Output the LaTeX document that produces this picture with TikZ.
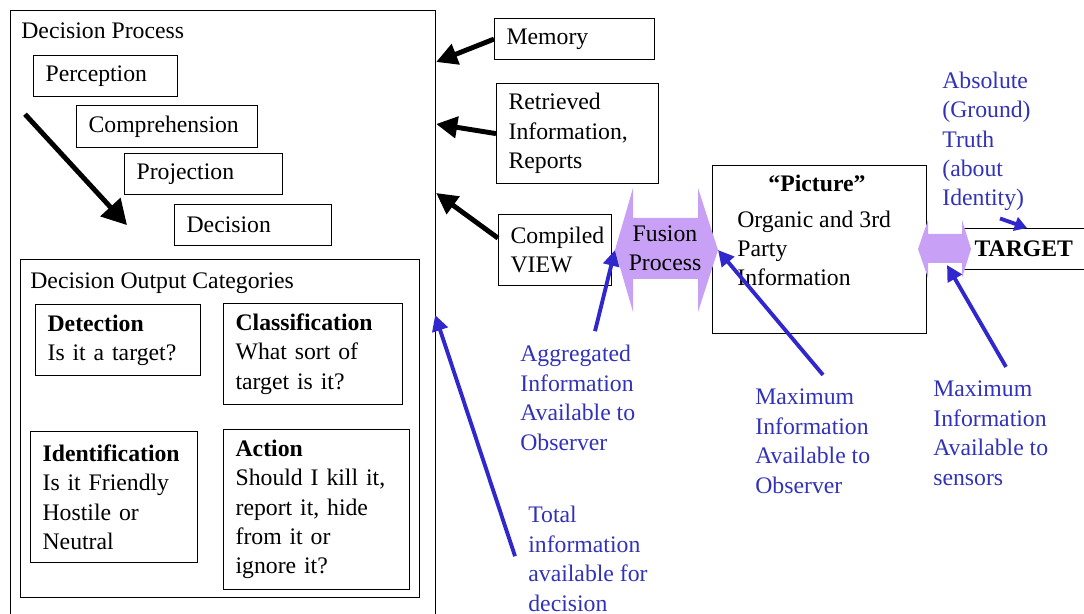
\documentclass[tikz,border=0pt]{standalone}
\usepackage{fontspec}
\setmainfont{Liberation Serif}
\usetikzlibrary{arrows.meta, calc}
\definecolor{infoblue}{RGB}{48,40,205}
\definecolor{txtblue}{RGB}{50,50,185}
\definecolor{lilac}{RGB}{200,160,245}
\begin{document}
\begin{tikzpicture}[x=0.02cm, y=-0.02cm, font=\fontsize{13.5}{16.7}\selectfont,
  box/.style={draw, line width=0.7pt, align=left, inner xsep=0.24cm, inner ysep=0pt, anchor=north west},
  lbl/.style={align=left, inner sep=0pt, anchor=base west},
  note/.style={lbl, text=txtblue},
  blk/.style={line width=2.8pt, -{Triangle[length=12pt,width=12pt]}},
  blu/.style={draw=infoblue, line width=2.2pt, -{Triangle[length=9pt,width=9pt]}}]
\useasboundingbox (0,0) rectangle (1084,614);
\clip (0,0) rectangle (1084,614);
% decision process
\node[box, minimum width=8.5cm, minimum height=13cm] (dp) at (10,10) {};
\node[lbl] (dptitle) at (21,39) {Decision Process};
\node[box, text width=2.4cm, minimum height=0.82cm] (perc) at (33,55) {Perception};
\node[box, text width=3.14cm, minimum height=0.84cm] (comp) at (76,105) {Comprehension};
\node[box, text width=2.68cm, minimum height=0.82cm] (proj) at (124,153) {Projection};
\node[box, text width=2.66cm, minimum height=0.82cm] (dec) at (174,204) {Decision};
% output categories
\node[box, minimum width=7.98cm, minimum height=6.76cm] (doc) at (20,259) {};
\node[lbl] (doctitle) at (30,289) {Decision Output Categories};
\node[box, text width=2.82cm, minimum height=1.42cm] (det) at (35,304) {\textbf{Detection}\\Is it a target?};
\node[box, text width=3.1cm, minimum height=2.02cm] (cls) at (223,303) {\textbf{Classification}\\What sort of\\target is it?};
\node[box, text width=2.86cm, minimum height=2.62cm] (idf) at (30,431) {\textbf{Identification}\\Is it Friendly\\Hostile or\\Neutral};
\node[box, text width=3.24cm, minimum height=3.2cm] (act) at (223,429) {\textbf{Action}\\Should I kill it,\\report it, hide\\from it or\\ignore it?};
% sources
\node[box, text width=2.72cm, minimum height=0.82cm] (mem) at (494,18) {Memory};
\node[box, text width=2.76cm, minimum height=2cm] (ret) at (496,83) {Retrieved\\Information,\\Reports};
\node[box, text width=1.78cm, minimum height=1.42cm] (cmp) at (498,214) {Compiled\\VIEW};
\node[box, minimum width=4.28cm, minimum height=3.36cm] (pic) at (712,165) {};
\node[inner sep=0pt, anchor=base] (pictitle) at (817,192) {\textbf{“Picture”}};
\node[lbl] (pictxt) at (737,286) {Organic and 3rd\\Party\\Information};
\node[box, text width=3cm, minimum height=0.82cm] (tgt) at (962,228) {\textbf{TARGET}};
% fusion arrows
\coordinate (fus) at (666,250);
\fill[lilac] (fus) ++(-51,0) coordinate (fusL) -- ++(18,-62) -- ++(0,30) -- ++(65,0) -- ++(0,-30)
  -- ++(20,62) coordinate (fusR) -- ++(-20,62) -- ++(0,-33) -- ++(-65,0) -- ++(0,33) -- cycle;
\node[align=center, inner sep=0pt, anchor=base] (fustxt) at (665,271) {Fusion\\Process};
\coordinate (sfus) at (944,249);
\fill[lilac] (sfus) ++(-26,0) -- ++(10,-29) -- ++(0,14) -- ++(34,0) -- ++(0,-14) -- ++(9,29)
  -- ++(-9,29) -- ++(0,-15) -- ++(-34,0) -- ++(0,15) -- cycle;
% blue notes
\node[note] (truth) at (942,206) {Absolute\\(Ground)\\Truth\\(about\\Identity)};
\node[note] (agg) at (520,450) {Aggregated\\Information\\Available to\\Observer};
\node[note] (maxobs) at (755,493) {Maximum\\Information\\Available to\\Observer};
\node[note] (maxsen) at (933,485) {Maximum\\Information\\Available to\\sensors};
\node[note] (total) at (528,611) {Total\\information\\available for\\decision};
% connectors
\draw[blk] (mem.west) -- ($(dp.north east)+(0,52)$);
\draw[blk] (ret.west) -- ($(dp.north east)+(0,114)$);
\draw[blk] ($(cmp.west)+(0,-12)$) -- ($(dp.north east)+(0,183)$);
\draw[blk, -{Triangle[length=14pt,width=15pt]}] ($(perc.south west)+(-8,17)$) -- ($(dec.west)+(-47,0)$);
\draw[blu] ($(agg.north west)+(75,-14)$) -- (fusL);
\draw[blu] ($(maxobs.north west)+(68,-14)$) -- (fusR);
\draw[blu] ($(maxsen.north west)+(73,-14)$) -- ($(sfus)+(3,16)$);
\draw[blu] ($(total.north west)+(-13,50)$) -- ($(dp.north east)+(-1,305)$);
\draw[blu, -{Triangle[length=7pt,width=8pt]}] ($(truth.south west)+(58,7)$) -- ($(tgt.north west)+(65,0)$);
\end{tikzpicture}
\end{document}
